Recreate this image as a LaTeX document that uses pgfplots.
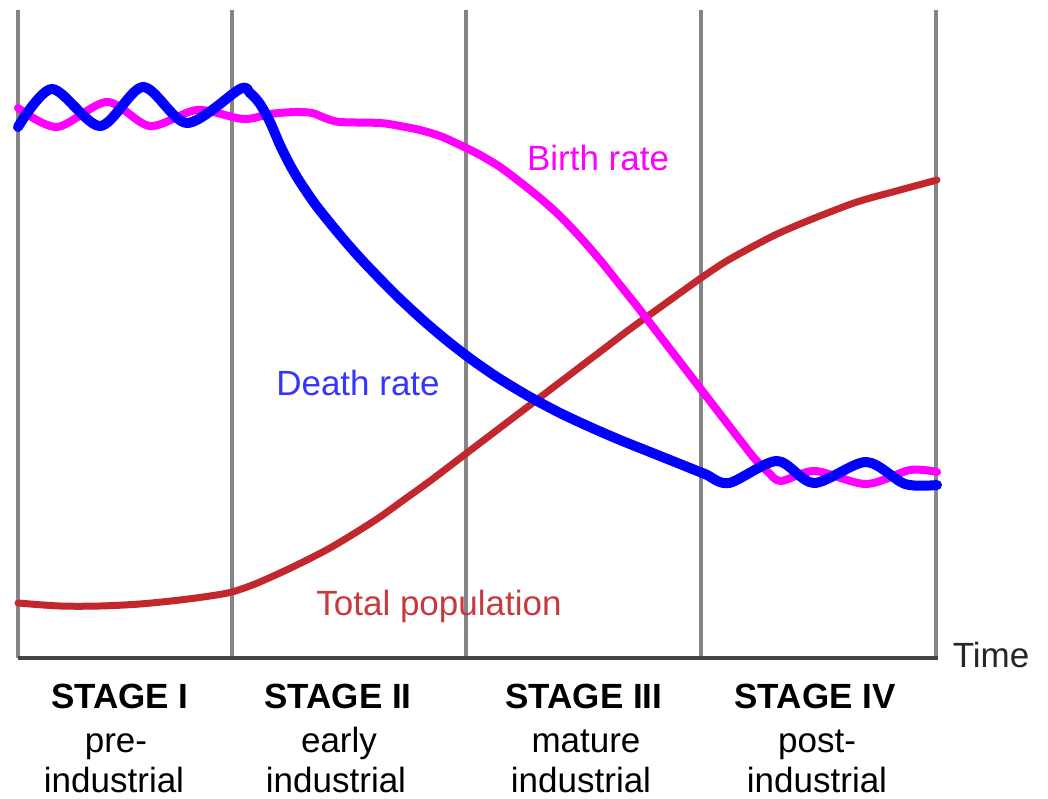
\documentclass[border=0pt]{standalone}
\usepackage{fontspec}
\setmainfont{Liberation Sans}
\usepackage{pgfplots}
\pgfplotsset{compat=1.18}
\definecolor{gridgray}{HTML}{858585}
\definecolor{axisgray}{HTML}{454545}
\definecolor{brate}{HTML}{FF00FF}
\definecolor{drate}{HTML}{0000FF}
\definecolor{pop}{HTML}{C1272D}
\definecolor{poptext}{HTML}{C63A40}
\definecolor{dtext}{HTML}{3535FF}
\begin{document}
\begin{tikzpicture}
\begin{axis}[
 x=0.5bp, y=0.5bp, y dir=reverse,
 xmin=18, xmax=936, ymin=10, ymax=658,
 axis line style={draw=none},
 xtick={18,232,466,701,936}, xticklabels={}, ytick=\empty,
 major tick length=0pt,
 xmajorgrids, grid style={gridgray, line width=2bp},
 clip=false,
 every axis plot/.append style={line cap=round, line join=round},
 font=\fontsize{17.5bp}{20bp}\selectfont,
]
\path (axis cs:0,0) rectangle (axis cs:1048,795);
\addplot[axisgray, line width=1.6bp, line cap=butt] coordinates {(18,658) (938,658)};
% Total population
\addplot[pop, line width=3.5bp, smooth] coordinates {
(18,603) (60,606) (100,606) (140,604) (180,600) (210,596) (232,592) (255,584)
(280,573) (305,561) (330,548) (355,533) (380,517) (405,499) (430,481) (455,462)
(480,443) (505,424) (530,405) (555,386) (580,367) (605,348) (630,329) (655,311)
(680,293) (701,278) (725,262) (750,248) (775,235) (800,224) (830,212) (860,201)
(900,190) (937,180)};
% Birth rate
\addplot[brate, line width=4bp, smooth] coordinates {
(18,108) (57,127) (107,102) (150,126) (197,110) (243,119) (270,114) (295,112)
(312,113) (325,118) (340,122) (380,123) (400,126) (420,130) (440,136) (460,145)
(480,155) (500,167) (520,182) (540,198) (560,216) (580,237) (600,260) (620,285)
(640,310) (660,336) (680,362) (700,388) (720,414) (740,440) (755,459) (768,472)
(781,481) (815,471) (866,484) (910,470) (937,472)};
% Death rate
\addplot[drate, line width=5bp, smooth] coordinates {
(18,127) (52,89) (100,126) (143,87) (187,123) (240,89) (250,93) (260,104)
(270,122) (280,145) (290,165) (300,182) (315,204) (330,223) (345,241) (360,258)
(380,279) (400,299) (425,322) (450,343) (475,362) (500,379) (530,397) (560,413)
(590,427) (620,440) (650,452) (680,464) (705,474) (729,483) (777,461) (814,483)
(866,462) (905,484) (937,485)};
\node[anchor=base, text=brate] at (axis cs:598,170) {Birth rate};
\node[anchor=base, text=dtext] at (axis cs:358,395) {Death rate};
\node[anchor=base, text=poptext] at (axis cs:439,615) {Total population};
\node[anchor=base, text=black!85] at (axis cs:991,667) {Time};
% stage labels
\node[anchor=base] at (axis cs:120,708) {\textbf{STAGE I}};
\node[anchor=base] at (axis cs:116,752) {pre-};
\node[anchor=base] at (axis cs:114,792) {industrial};
\node[anchor=base] at (axis cs:338,708) {\textbf{STAGE II}};
\node[anchor=base] at (axis cs:339,752) {early};
\node[anchor=base] at (axis cs:336,792) {industrial};
\node[anchor=base] at (axis cs:584,708) {\textbf{STAGE III}};
\node[anchor=base] at (axis cs:586,752) {mature};
\node[anchor=base] at (axis cs:581,792) {industrial};
\node[anchor=base] at (axis cs:815,708) {\textbf{STAGE IV}};
\node[anchor=base] at (axis cs:817,752) {post-};
\node[anchor=base] at (axis cs:817,792) {industrial};
\end{axis}
\end{tikzpicture}
\end{document}
